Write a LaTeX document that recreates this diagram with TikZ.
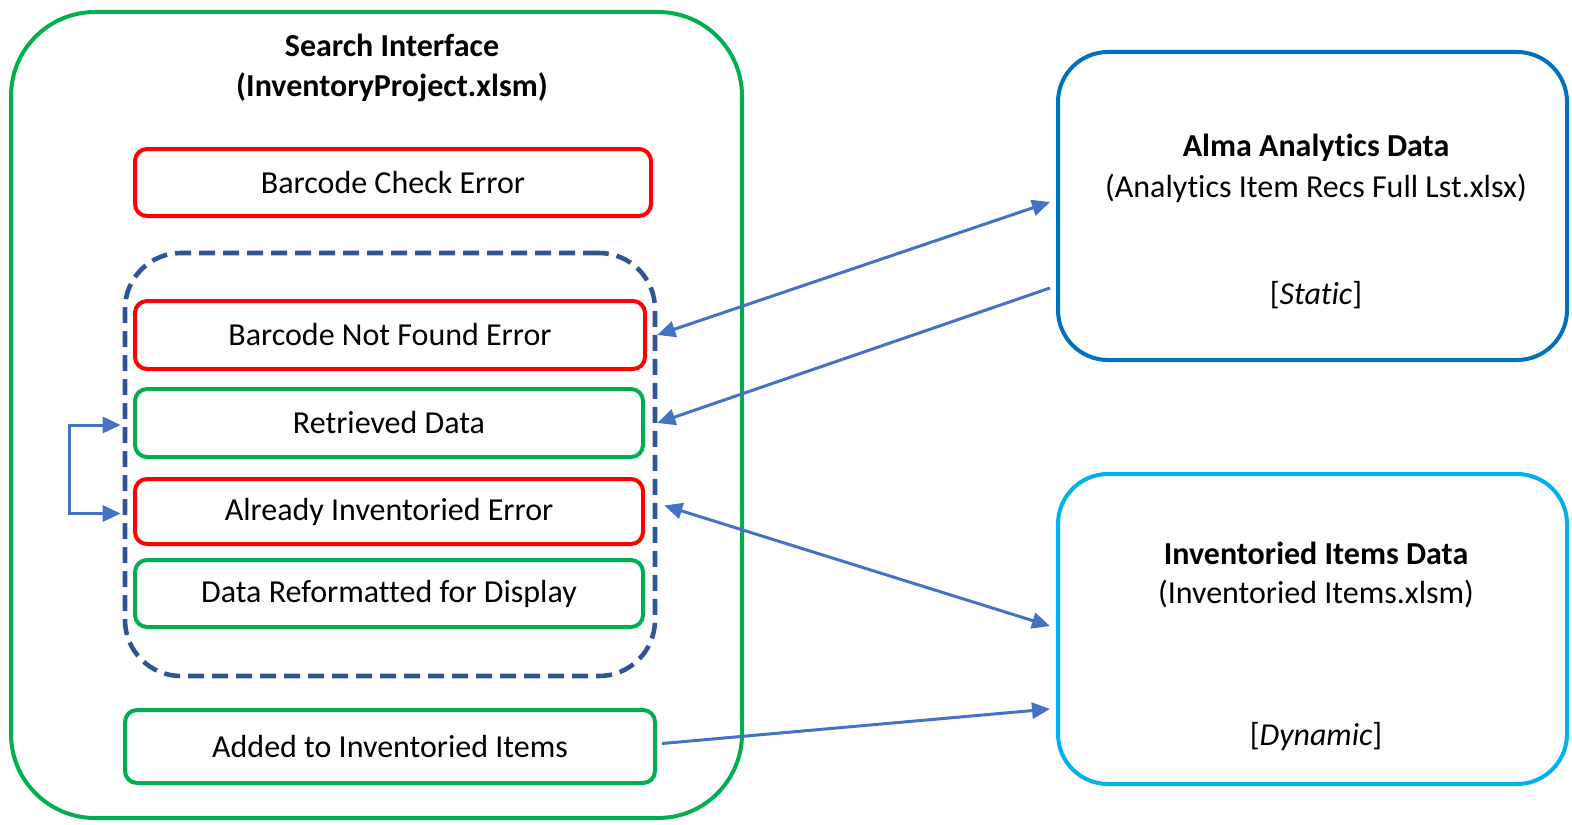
\documentclass[tikz,border=0pt]{standalone}
\usepackage{fontspec}
\setmainfont{Carlito}[Ligatures={NoCommon,NoRequired,NoContextual}]
\usetikzlibrary{arrows.meta,calc}
\definecolor{gr}{HTML}{00B050}
\definecolor{rd}{HTML}{FF0000}
\definecolor{dk}{HTML}{2F5597}
\definecolor{ab}{HTML}{0070C0}
\definecolor{lb}{HTML}{00B0F0}
\definecolor{ar}{HTML}{4472C4}
\tikzset{
  box/.style={draw, line width=2pt, rounded corners=6pt, minimum width=#1, inner sep=0pt, font=\fontsize{16}{20}\selectfont},
  redbox/.style={box=#1, draw=rd},
  greenbox/.style={box=#1, draw=gr},
  conn/.style={draw=ar, line width=1.5pt, -{Triangle[length=9pt,width=8pt]}},
  conn2/.style={draw=ar, line width=1.5pt, {Triangle[length=9pt,width=8pt]}-{Triangle[length=9pt,width=8pt]}},
  txt/.style={font=\fontsize{16}{20}\selectfont, inner sep=0pt}
}
\begin{document}
\begin{tikzpicture}[x=0.5pt,y=-0.5pt]
\useasboundingbox (0,0) rectangle (1572,824);
\clip (0,0) rectangle (1572,824);
% outer search interface
\node[draw=gr, line width=2pt, rounded corners=42pt, minimum width=365.5pt, minimum height=403pt, inner sep=0pt] (si) at (376.5,415) {};
\node[txt, font=\fontsize{16}{20}\selectfont\bfseries, align=center] (sit) at (392,68) {Search Interface\\(InventoryProject.xlsm)};
% inner boxes
\node[redbox=258pt, minimum height=33.5pt] (bce) at (393,182.5) {Barcode Check Error};
\node[draw=dk, line width=2.3pt, dash pattern=on 8pt off 4pt, rounded corners=28pt, minimum width=265pt, minimum height=211.5pt, inner sep=0pt] (dash) at (390,464.5) {};
\node[redbox=255pt, minimum height=34pt] (bnf) at (390,335) {Barcode Not Found Error};
\node[greenbox=254pt, minimum height=34pt] (rdt) at (389,423) {Retrieved Data};
\node[redbox=254pt, minimum height=32.5pt] (aie) at (389,511.5) {Already Inventoried Error};
\node[greenbox=254pt, minimum height=33.5pt] (drf) at (389,593.5) {Data Reformatted for Display};
\node[greenbox=265pt, minimum height=36.5pt] (add) at (390,746.5) {Added to Inventoried Items};
% right boxes
\node[draw=ab, line width=2pt, rounded corners=25pt, minimum width=254.5pt, minimum height=154pt, inner sep=0pt] (alma) at (1312.5,206) {};
\node[txt, font=\fontsize{16}{20.5}\selectfont, align=center] (almat) at (1316,168) {\textbf{Alma Analytics Data}\\(Analytics Item Recs Full Lst.xlsx)};
\node[txt] (almas) at (1316,295) {[\textit{Static}]};
\node[draw=lb, line width=2pt, rounded corners=25pt, minimum width=254.5pt, minimum height=155pt, inner sep=0pt] (inv) at (1312.5,629) {};
\node[txt, font=\fontsize{16}{19.5}\selectfont, align=center] (invt) at (1316,575) {\textbf{Inventoried Items Data}\\(Inventoried Items.xlsm)};
\node[txt] (invs) at (1316,737) {[\textit{Dynamic}]};
% connector end points
\coordinate (a1) at ($(alma.west)+(-6,-4)$);
\coordinate (a2) at ($(alma.west)+(-6,82)$);
\coordinate (b1) at ($(inv.west)+(-6,-3)$);
\coordinate (b2) at ($(inv.west)+(-6,80)$);
% connectors
\draw[conn2] (dash.east |- bnf.east) -- (a1);
\draw[conn] (a2) -- (dash.east |- rdt.east);
\draw[conn2] ($(dash.east |- aie.east)+(7,-6)$) -- (b1);
\draw[conn] ($(add.east)+(5,-3)$) -- (b2);
\draw[conn2] ($(dash.west |- rdt.west)+(-2,2)$) -- ++(-51,0) |- ($(dash.west |- aie.west)+(-2,2)$);
\end{tikzpicture}
\end{document}
